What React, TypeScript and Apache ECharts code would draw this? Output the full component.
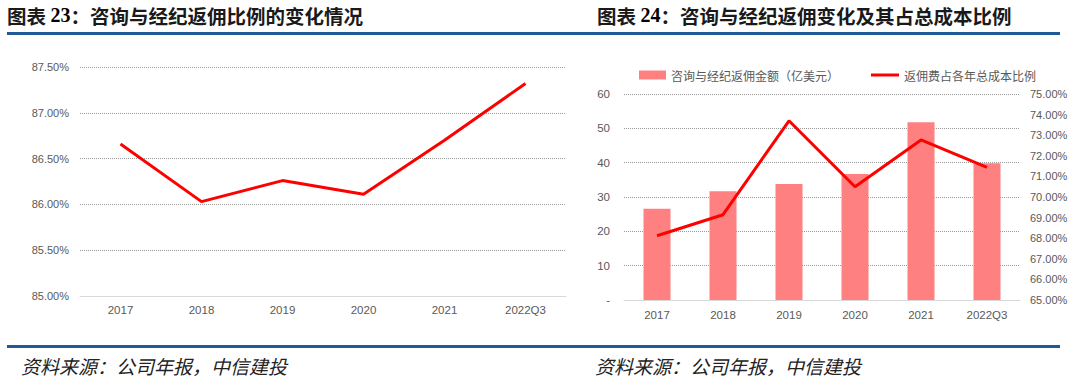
import React, { useEffect, useRef } from "react";
import * as echarts from "echarts";

const leftCategories = ["2017", "2018", "2019", "2020", "2021", "2022Q3"];
const leftRatio = [86.66, 86.03, 86.26, 86.11, 86.7, 87.32];

const rightCategories = ["2017", "2018", "2019", "2020", "2021", "2022Q3"];
const rebateAmount = [26.6, 31.7, 33.8, 36.7, 51.8, 39.8];
const rebateShare = [68.12, 69.14, 73.7, 70.5, 72.77, 71.44];

const barName = "咨询与经纪返佣金额（亿美元）";
const lineName = "返佣费占各年总成本比例";
const leftTitleNum = "23";
const leftTitleText = "：咨询与经纪返佣比例的变化情况";
const rightTitleNum = "24";
const rightTitleText = "：咨询与经纪返佣变化及其占总成本比例";
const sourceText = "资料来源：公司年报，中信建投";

const NUM_FONT = "'Liberation Sans', Arial, sans-serif";
const CJK_FONT = "'Noto Sans CJK SC', sans-serif";
const LABEL_COLOR = "#595959";
const BLUE = "#1F5A96";

export default function App() {
  const ref = useRef<HTMLDivElement>(null);

  useEffect(() => {
    if (!ref.current) return;
    const chart = echarts.init(ref.current, undefined, { renderer: "svg" });

    const titleRich = {
      a: { fontFamily: CJK_FONT, fontWeight: "bold", fontSize: 19.5, fill: "#1a1a1a", color: "#1a1a1a" },
      b: { fontFamily: "'Liberation Serif', 'Times New Roman', serif", fontWeight: "bold", fontSize: 20, color: "#1a1a1a" },
    };

    const splitLine = { show: true, lineStyle: { type: "dotted", color: "#9a9a9a", width: 1 } };
    const xAxisBase = {
      type: "category",
      axisTick: { show: false },
      axisLine: { show: true, lineStyle: { color: "#d9d9d9", width: 1 } },
      axisLabel: { color: LABEL_COLOR, fontSize: 11.5, fontFamily: NUM_FONT, margin: 9 },
    };

    chart.setOption({
      animation: false,
      backgroundColor: "#ffffff",
      grid: [
        { left: 80, right: 514, top: 67, bottom: 84 },
        { left: 624, right: 60, top: 94, bottom: 80 },
      ],
      legend: [
        {
          data: [{ name: barName, icon: "rect" }],
          left: 634,
          top: 64,
          itemWidth: 27,
          itemHeight: 9,
          textStyle: { color: LABEL_COLOR, fontSize: 12, fontFamily: CJK_FONT },
        },
        {
          data: [{ name: lineName, icon: "rect" }],
          left: 866,
          top: 64,
          itemWidth: 28,
          itemHeight: 3,
          textStyle: { color: LABEL_COLOR, fontSize: 12, fontFamily: CJK_FONT },
        },
      ],
      xAxis: [
        { ...xAxisBase, gridIndex: 0, data: leftCategories, axisLabel: { ...xAxisBase.axisLabel, margin: 8 } },
        { ...xAxisBase, gridIndex: 1, data: rightCategories },
      ],
      yAxis: [
        {
          type: "value",
          gridIndex: 0,
          min: 85,
          max: 87.5,
          interval: 0.5,
          axisLine: { show: false },
          axisTick: { show: false },
          splitLine,
          axisLabel: {
            color: LABEL_COLOR,
            fontSize: 11,
            fontFamily: NUM_FONT,
            margin: 11,
            formatter: (v: number) => v.toFixed(2) + "%",
          },
        },
        {
          type: "value",
          gridIndex: 1,
          min: 0,
          max: 60,
          interval: 10,
          axisLine: { show: false },
          axisTick: { show: false },
          splitLine,
          axisLabel: {
            color: LABEL_COLOR,
            fontSize: 11.5,
            fontFamily: NUM_FONT,
            margin: 14,
            formatter: (v: number) => (v === 0 ? "-" : String(v)),
          },
        },
        {
          type: "value",
          gridIndex: 1,
          position: "right",
          min: 65,
          max: 75,
          interval: 1,
          axisLine: { show: false },
          axisTick: { show: false },
          splitLine: { show: false },
          axisLabel: {
            color: LABEL_COLOR,
            fontSize: 11,
            fontFamily: NUM_FONT,
            margin: 10,
            formatter: (v: number) => v.toFixed(2) + "%",
          },
        },
      ],
      series: [
        {
          name: "比例",
          type: "line",
          xAxisIndex: 0,
          yAxisIndex: 0,
          data: leftRatio,
          symbol: "none",
          lineStyle: { color: "#FF0000", width: 3 },
          itemStyle: { color: "#FF0000" },
        },
        {
          name: barName,
          type: "bar",
          xAxisIndex: 1,
          yAxisIndex: 1,
          data: rebateAmount,
          barWidth: 27,
          itemStyle: { color: "#FF8080" },
        },
        {
          name: lineName,
          type: "line",
          xAxisIndex: 1,
          yAxisIndex: 2,
          data: rebateShare,
          symbol: "none",
          lineStyle: { color: "#FF0000", width: 3 },
          itemStyle: { color: "#FF0000" },
        },
      ],
      graphic: [
        {
          type: "text",
          left: 7,
          top: 5,
          style: {
            text: "{a|图表 }{b|" + leftTitleNum + "}{a|" + leftTitleText + "}",
            rich: titleRich,
          },
        },
        {
          type: "text",
          left: 597,
          top: 5,
          style: {
            text: "{a|图表 }{b|" + rightTitleNum + "}{a|" + rightTitleText + "}",
            rich: titleRich,
          },
        },
        {
          type: "rect",
          shape: { x: 7, y: 32, width: 1053, height: 3 },
          style: { fill: BLUE },
        },
        {
          type: "rect",
          shape: { x: 7, y: 345, width: 1053, height: 3 },
          style: { fill: BLUE },
        },
        {
          type: "text",
          left: 21,
          top: 356,
          style: {
            text: sourceText,
            fontFamily: CJK_FONT,
            fontStyle: "italic",
            fontSize: 19,
            fill: "#222222",
          },
        },
        {
          type: "text",
          left: 595,
          top: 356,
          style: {
            text: sourceText,
            fontFamily: CJK_FONT,
            fontStyle: "italic",
            fontSize: 19,
            fill: "#222222",
          },
        },
      ],
    });

    return () => chart.dispose();
  }, []);

  return (
    <div
      ref={ref}
      style={{ position: "fixed", left: 0, top: 0, width: 1080, height: 380, background: "#fff" }}
    />
  );
}
